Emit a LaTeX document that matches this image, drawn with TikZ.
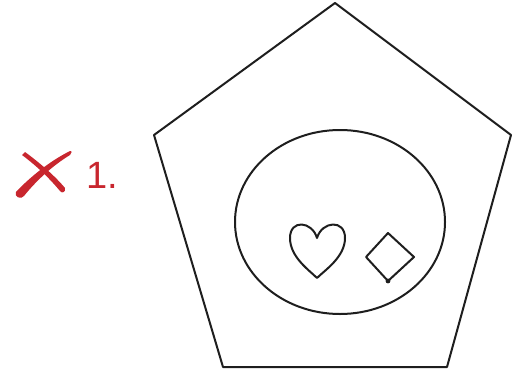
\documentclass[tikz,border=0pt]{standalone}
\usepackage{fontspec}
\setmainfont{Liberation Sans}
\usetikzlibrary{calc}
\definecolor{cMark}{HTML}{C8262E}
\definecolor{cInk}{HTML}{1E1E1E}
\tikzset{
  outline/.style ={draw=cInk,line width=2pt,line join=round},
  brush/.style   ={cMark,line cap=round,line join=round},
  numlbl/.style  ={text=cMark,font=\fontsize{38}{40}\selectfont,inner sep=0pt,anchor=west},
}
\begin{document}
\begin{tikzpicture}[x=1pt,y=-1pt]
\useasboundingbox (0,0) rectangle (513,388);
% pentagon
\coordinate (top) at (335,3);
\coordinate (rgt) at (511,135);
\coordinate (br)  at (447,367);
\coordinate (bl)  at (223,367);
\coordinate (lft) at (154,135);
\draw[outline] (top) -- (rgt) -- (br) -- (bl) -- (lft) -- cycle;
% ellipse inside
\draw[outline] (340,222) ellipse [x radius=105,y radius=92];
% heart
\coordinate (dip) at (317,238);
\coordinate (tip) at (317,278);
\draw[outline] (dip) .. controls (312,221) and (290,219) .. (290,238)
   .. controls (290,257) and (309,270) .. (tip)
   .. controls (325,270) and (345,257) .. (345,238)
   .. controls (345,219) and (322,221) .. (dip) -- cycle;
% diamond with dot
\coordinate (dT) at (388,233);
\coordinate (dR) at (414,257);
\coordinate (dB) at (388,281);
\coordinate (dL) at (366,257);
\draw[outline] (dT) -- (dR) -- (dB) -- (dL) -- cycle;
\fill[cInk] (dB) circle (2.4pt);
% red cross and number
\fill[brush] (22,155) .. controls (38,167) and (50,179) .. (60,191)
   .. controls (62,194) and (66,192) .. (65,188)
   .. controls (55,176) and (40,163) .. (25,152) -- cycle;
\fill[brush] (16,192) .. controls (30,177) and (50,161) .. (70,151)
   .. controls (72,150) and (72,154) .. (70,155)
   .. controls (52,166) and (36,181) .. (24,196)
   .. controls (21,200) and (14,197) .. (16,192) -- cycle;
\node[numlbl] (num) at (86,175) {1.};
\end{tikzpicture}
\end{document}
